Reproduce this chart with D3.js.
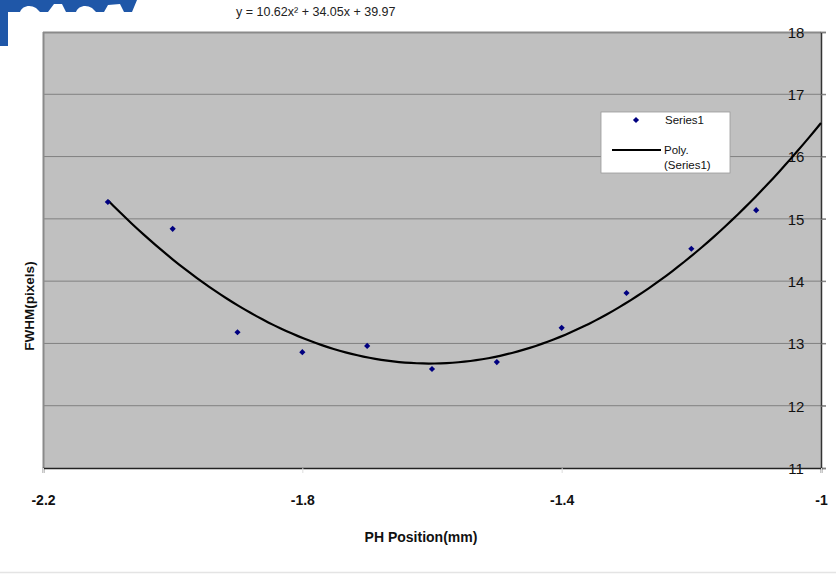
<!DOCTYPE html>
<html><head><meta charset="utf-8">
<script src="https://cdn.jsdelivr.net/npm/d3@7"></script>
<style>body{margin:0;background:#fff;}svg{display:block;}</style>
</head><body>
<script>
const positions = [-2.1, -2.0, -1.9, -1.8, -1.7, -1.6, -1.5, -1.4, -1.3, -1.2, -1.1];
const fwhm = [15.27, 14.84, 13.18, 12.86, 12.96, 12.59, 12.70, 13.25, 13.81, 14.52, 15.14];
const polyCoeffs = [10.62, 34.05, 39.97]; // a x^2 + b x + c (trendline from chart)
const xTicks = [-2.2, -1.8, -1.4, -1];
const yTicks = [11, 12, 13, 14, 15, 16, 17, 18];
const equationText = "y = 10.62x\u00B2 + 34.05x + 39.97";

const W = 836, H = 574;
const svg = d3.select("body").append("svg").attr("width", W).attr("height", H);
const L = 43, R = 821, T = 32, B = 468;
const x = d3.scaleLinear().domain([-2.2, -1]).range([L, R]);
const y = d3.scaleLinear().domain([11, 18]).range([B, T]);
const font = "'Liberation Sans', Arial, sans-serif";
const narrow = "'Liberation Sans Narrow', 'Liberation Sans', Arial, sans-serif";

// logo fragment top-left
const logo = svg.append("g");
logo.append("path").attr("d", "M0,0 H137 L132,12 H8 V46 H0 Z").attr("fill", "#1f57a8");
logo.append("path").attr("d", "M20,12 C22,6 30,4 36,8 L40,12 Z M48,12 L54,4 L62,4 L66,12 Z M76,12 C78,6 86,4 92,8 L96,12 Z M104,12 L108,5 L120,4 L124,12 Z").attr("fill", "#fff");

// equation
svg.append("text").attr("x", 236).attr("y", 16).attr("font-family", font).attr("font-size", 12.5)
  .attr("fill", "#222").text(equationText);

// plot area
svg.append("rect").attr("x", L).attr("y", T).attr("width", R - L).attr("height", B - T).attr("fill", "#c0c0c0");

// gridlines
svg.append("g").selectAll("line").data(yTicks.filter(d => d > 11 && d < 18)).join("line")
  .attr("x1", L).attr("x2", R + 5).attr("y1", d => y(d)).attr("y2", d => y(d))
  .attr("stroke", "#808080").attr("stroke-width", 1);

// top and left borders (grey)
svg.append("line").attr("x1", L).attr("x2", R).attr("y1", T + 0.5).attr("y2", T + 0.5).attr("stroke", "#8a8a8a").attr("stroke-width", 2);
svg.append("line").attr("x1", L + 0.5).attr("x2", L + 0.5).attr("y1", T).attr("y2", B).attr("stroke", "#8a8a8a").attr("stroke-width", 2);

// right axis with labels
const yAxis = d3.axisRight(y).tickValues(yTicks).tickSize(5).tickFormat(d3.format("d"));
const ya = svg.append("g").attr("transform", `translate(${R},0)`).call(yAxis);
ya.select(".domain").attr("stroke", "#333").attr("stroke-width", 1.5);
ya.selectAll(".tick line").attr("stroke", "#808080");
ya.selectAll(".tick text").attr("x", -25).attr("text-anchor", "middle").attr("dy", "0.36em")
  .attr("font-family", font).attr("font-size", 15).attr("fill", "#111");

// bottom axis
const xAxis = d3.axisBottom(x).tickValues(xTicks).tickSize(5).tickFormat(d => String(d));
const xa = svg.append("g").attr("transform", `translate(0,${B})`).call(xAxis);
xa.select(".domain").attr("stroke", "#222").attr("stroke-width", 1.5);
xa.selectAll(".tick line").attr("stroke", "#ddd");
xa.selectAll(".tick text").attr("y", 27).attr("font-family", narrow)
  .attr("font-weight", "bold").attr("font-size", 14).attr("fill", "#111");

// trend curve
const curveXs = d3.range(0, 121).map(i => -2.1 + i * (1.1 / 120));
const poly = v => polyCoeffs[0] * v * v + polyCoeffs[1] * v + polyCoeffs[2];
svg.append("path").datum(curveXs)
  .attr("d", d3.line().x(d => x(d)).y(d => y(poly(d))))
  .attr("fill", "none").attr("stroke", "#000").attr("stroke-width", 2.2);

// points (square diamonds)
const diamond = d3.symbol().type(d3.symbolSquare).size(19);
svg.append("g").selectAll("path").data(positions.map((p, i) => [p, fwhm[i]])).join("path")
  .attr("transform", d => `translate(${x(d[0])},${y(d[1])}) rotate(45)`).attr("d", diamond).attr("fill", "#000080");

// legend
const lg = svg.append("g");
lg.append("rect").attr("x", 601).attr("y", 112).attr("width", 129).attr("height", 61).attr("fill", "#fff").attr("stroke", "#999").attr("stroke-width", 0.8);
lg.append("path").attr("transform", "translate(636,120) rotate(45)").attr("d", diamond).attr("fill", "#000080");
lg.append("text").attr("x", 665).attr("y", 124).attr("font-family", font).attr("font-size", 11.5).attr("fill", "#111").text("Series1");
lg.append("line").attr("x1", 612).attr("x2", 661).attr("y1", 150).attr("y2", 150).attr("stroke", "#000").attr("stroke-width", 2);
lg.append("text").attr("x", 664).attr("y", 154).attr("font-family", font).attr("font-size", 11.5).attr("fill", "#111").text("Poly.");
lg.append("text").attr("x", 664).attr("y", 169).attr("font-family", font).attr("font-size", 11.5).attr("fill", "#111").text("(Series1)");

// axis titles
svg.append("text").attr("x", 421).attr("y", 542).attr("text-anchor", "middle")
  .attr("font-family", narrow).attr("font-weight", "bold").attr("font-size", 14).attr("fill", "#111").text("PH Position(mm)");
svg.append("text").attr("transform", "translate(34,306) rotate(-90)").attr("text-anchor", "middle")
  .attr("font-family", font).attr("font-weight", "bold").attr("font-size", 13.5).attr("fill", "#111").text("FWHM(pixels)");

// bottom separator
svg.append("line").attr("x1", 0).attr("x2", W).attr("y1", 572.5).attr("y2", 572.5).attr("stroke", "#e4e4e4").attr("stroke-width", 1.5);
</script>
</body></html>
